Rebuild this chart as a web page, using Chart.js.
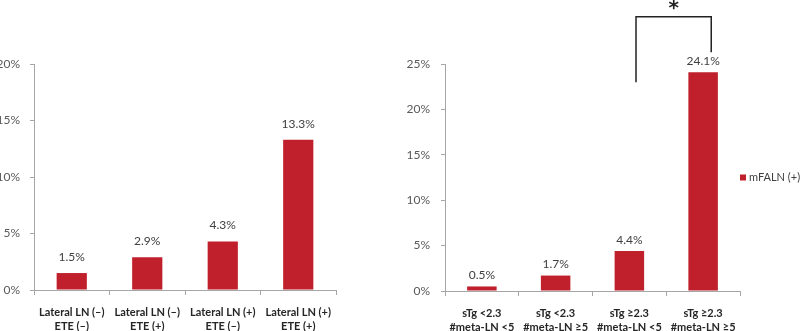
<!DOCTYPE html>
<html lang="en">
<head>
<meta charset="UTF-8">
<title>mFALN (+) rates</title>
<script src="https://cdn.jsdelivr.net/npm/chart.js"></script>
<style>
  body { margin: 0; background: #fff; }
  .wrap { position: relative; width: 800px; height: 331px; }
  .panel { position: absolute; top: 0; width: 400px; height: 331px; }
  #left { left: 0; }
  #right { left: 400px; }
</style>
</head>
<body>
<div class="wrap">
  <div class="panel" id="left"><canvas id="chartLeft"></canvas></div>
  <div class="panel" id="right"><canvas id="chartRight"></canvas></div>
</div>
<script>
// left panel
const leftCategories = [
  ['Lateral LN (–)', 'ETE (–)'],
  ['Lateral LN (–)', 'ETE (+)'],
  ['Lateral LN (+)', 'ETE (–)'],
  ['Lateral LN (+)', 'ETE (+)']
];
const leftValues = [1.5, 2.9, 4.3, 13.3];
const leftTicks = [0, 5, 10, 15, 20];

// right panel
const rightCategories = [
  ['sTg <2.3', '#meta-LN <5'],
  ['sTg <2.3', '#meta-LN ≥5'],
  ['sTg ≥2.3', '#meta-LN <5'],
  ['sTg ≥2.3', '#meta-LN ≥5']
];
const rightValues = [0.5, 1.7, 4.4, 24.1];
const rightTicks = [0, 5, 10, 15, 20, 25];

const seriesName = 'mFALN (+)';
const barColor = '#C0202B';
const axisColor = '#A6A6A6';
const fontFamily = 'Lato, "Open Sans", sans-serif';

Chart.defaults.font.family = fontFamily;
Chart.defaults.font.size = 12;
Chart.defaults.color = '#595959';

// value text above each bar
const valueLabels = {
  id: 'valueLabels',
  afterDatasetsDraw(chart, args, opts) {
    const ctx = chart.ctx;
    const meta = chart.getDatasetMeta(0);
    const vals = chart.data.datasets[0].data;
    ctx.save();
    ctx.font = '12px ' + fontFamily;
    ctx.fillStyle = '#404040';
    ctx.textAlign = 'center';
    ctx.textBaseline = 'middle';
    meta.data.forEach((bar, i) => {
      ctx.fillText(vals[i].toFixed(1) + '%', bar.x, bar.y - opts.gap);
    });
    ctx.restore();
  }
};

// legend square + text to the right of the plot
const sideLegend = {
  id: 'sideLegend',
  afterDraw(chart, args, opts) {
    if (!opts.show) return;
    const ctx = chart.ctx;
    const ds = chart.data.datasets[0];
    const y = chart.scales.y.getPixelForValue(opts.atValue);
    const x = chart.chartArea.right;
    ctx.save();
    ctx.fillStyle = ds.backgroundColor;
    ctx.fillRect(x, y - 3, 6, 6);
    ctx.fillStyle = '#404040';
    ctx.font = '11px ' + fontFamily;
    ctx.textBaseline = 'middle';
    ctx.fillText(ds.label, x + 9, y);
    ctx.restore();
  }
};

// significance bracket between two bars
const sigBracket = {
  id: 'sigBracket',
  afterDraw(chart, args, opts) {
    if (!opts.show) return;
    const ctx = chart.ctx;
    const xs = chart.scales.x, ys = chart.scales.y;
    const x1 = xs.getPixelForValue(opts.from + 0.09);
    const x2 = xs.getPixelForValue(opts.to + 0.11);
    const yTop = ys.getPixelForValue(opts.top);
    ctx.save();
    ctx.strokeStyle = '#222';
    ctx.lineWidth = 1.5;
    ctx.beginPath();
    ctx.moveTo(x1, ys.getPixelForValue(opts.leftEnd));
    ctx.lineTo(x1, yTop);
    ctx.lineTo(x2, yTop);
    ctx.lineTo(x2, ys.getPixelForValue(opts.rightEnd));
    ctx.stroke();
    ctx.fillStyle = '#222';
    ctx.font = 'bold 20px "DejaVu Sans", sans-serif';
    ctx.textAlign = 'center';
    ctx.textBaseline = 'middle';
    ctx.fillText('*', (x1 + x2) / 2, yTop - 8);
    ctx.restore();
  }
};

function makeChart(canvasId, categories, values, ticks, cfg) {
  return new Chart(document.getElementById(canvasId), {
    type: 'bar',
    data: {
      labels: categories,
      datasets: [{
        label: seriesName,
        data: values,
        backgroundColor: barColor,
        barPercentage: 0.4,
        categoryPercentage: 1
      }]
    },
    options: {
      responsive: true,
      maintainAspectRatio: false,
      animation: false,
      layout: { padding: { top: 64, right: cfg.padRight, bottom: 0, left: 0 } },
      plugins: {
        legend: { display: false },
        tooltip: { enabled: false },
        valueLabels: { gap: cfg.gap },
        sideLegend: cfg.legend,
        sigBracket: cfg.bracket
      },
      scales: {
        x: {
          afterFit(scale) { scale.height = cfg.xHeight; },
          grid: {
            offset: true,
            drawOnChartArea: false,
            tickLength: 5,
            color: axisColor
          },
          border: { color: axisColor },
          ticks: {
            color: '#262626',
            padding: 10,
            maxRotation: 0,
            autoSkip: false,
            font: { weight: 'bold', size: 11, lineHeight: 1.3 }
          }
        },
        y: {
          min: ticks[0],
          max: ticks[ticks.length - 1],
          afterFit(scale) { scale.width = cfg.yWidth; },
          afterBuildTicks(scale) { scale.ticks = ticks.map(v => ({ value: v })); },
          grid: {
            drawOnChartArea: false,
            tickLength: 4,
            color: axisColor
          },
          border: { color: axisColor },
          ticks: {
            padding: cfg.yPad,
            callback: v => v + '%'
          }
        }
      }
    },
    plugins: [valueLabels, sideLegend, sigBracket]
  });
}

makeChart('chartLeft', leftCategories, leftValues, leftTicks, {
  padRight: 64, xHeight: 41, yWidth: 34, yPad: 10, gap: 16,
  legend: { show: false },
  bracket: { show: false }
});

makeChart('chartRight', rightCategories, rightValues, rightTicks, {
  padRight: 60, xHeight: 40, yWidth: 45, yPad: 11, gap: 11,
  legend: { show: true, atValue: 12.5 },
  bracket: { show: true, from: 2, to: 3, top: 30.2, leftEnd: 23.0, rightEnd: 26.3 }
});
</script>
</body>
</html>
